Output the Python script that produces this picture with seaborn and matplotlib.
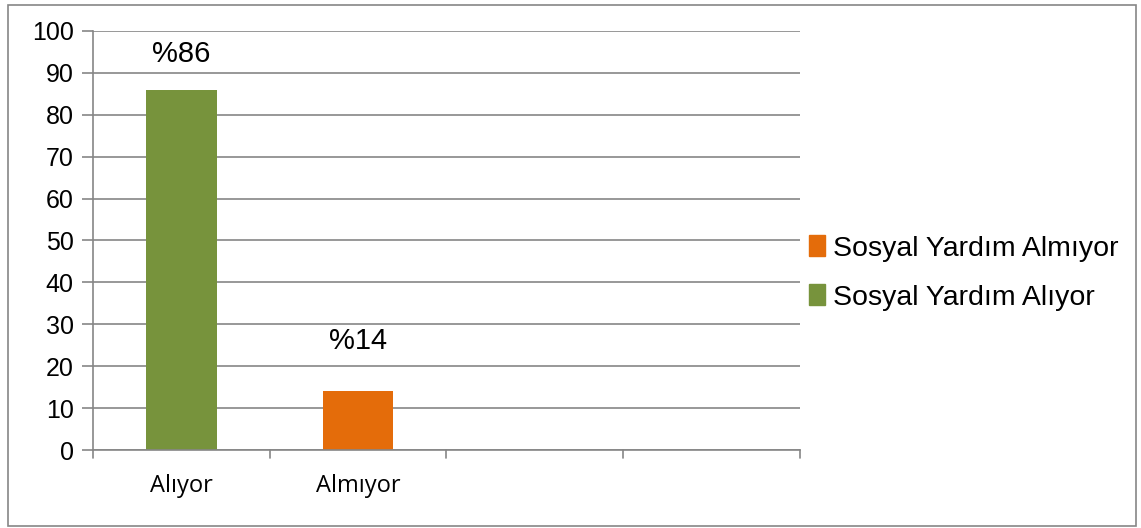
import pandas as pd
import matplotlib.pyplot as plt
import seaborn as sns
from matplotlib.patches import Rectangle

# Veri
categories = ['Alıyor', 'Almıyor']
values = [86, 14]
series = ['Sosyal Yardım Alıyor', 'Sosyal Yardım Almıyor']
bar_labels = ['%86', '%14']
label_y = [94.5, 26]
colors = {'Sosyal Yardım Alıyor': '#77933C', 'Sosyal Yardım Almıyor': '#E46C0A'}
legend_order = ['Sosyal Yardım Almıyor', 'Sosyal Yardım Alıyor']

df = pd.DataFrame({'kategori': categories, 'deger': values, 'seri': series})

sns.set_theme(style='white')
plt.rcParams['font.family'] = ['Liberation Sans', 'DejaVu Sans']
plt.rcParams['text.color'] = 'black'

fig = plt.figure(figsize=(11.41, 5.28), dpi=100)
ax = fig.add_axes([93 / 1141, 1 - 450 / 528, (800 - 93) / 1141, (450 - 31) / 528])

sns.barplot(data=df, x='kategori', y='deger', hue='seri', palette=colors,
            dodge=False, width=0.4, saturation=1, ax=ax, legend=False, linewidth=0)

ax.set_xlim(-0.5, 3.5)
ax.set_ylim(0, 100)
ax.set_yticks(range(0, 101, 10))
ax.set_xticks([0, 1])
ax.set_xticklabels(categories, fontsize=17, family=['Open Sans', 'DejaVu Sans'])
ax.set_xlabel('')
ax.set_ylabel('')
ax.tick_params(axis='y', labelsize=18, length=8, color='#868686', width=1.2, pad=6,
               left=True, labelcolor='black')
ax.tick_params(axis='x', length=0, pad=17, labelcolor='black')
# kategori sınır tikleri
for xb in [-0.5, 0.5, 1.5, 2.5, 3.5]:
    ax.plot([xb, xb], [0, -0.019 * 100], color='#868686', lw=1.2, clip_on=False)

ax.grid(axis='y', color='#868686', lw=1.2)
ax.set_axisbelow(True)
for s in ['top', 'right']:
    ax.spines[s].set_visible(False)
for s in ['left', 'bottom']:
    ax.spines[s].set_color('#868686')
    ax.spines[s].set_linewidth(1.2)

for i, (lab, yv) in enumerate(zip(bar_labels, label_y)):
    ax.text(i, yv, lab, ha='center', va='center', fontsize=21, color='black')

handles = [Rectangle((0, 0), 1, 1, color=colors[s]) for s in legend_order]
fig.legend(handles, legend_order, loc='center left', bbox_to_anchor=(809 / 1141, 1 - 273 / 528),
           frameon=False, fontsize=20.5, handlelength=0.55, handleheight=0.75,
           handletextpad=0.3, labelspacing=0.8, borderaxespad=0, borderpad=0,
           labelcolor='black')

# dış çerçeve
fig.add_artist(Rectangle((8 / 1141, 2 / 528), 1128 / 1141, 521 / 528, transform=fig.transFigure,
                         fill=False, edgecolor='#868686', lw=1.2))

fig.savefig('out.png', dpi=100, facecolor='white')
